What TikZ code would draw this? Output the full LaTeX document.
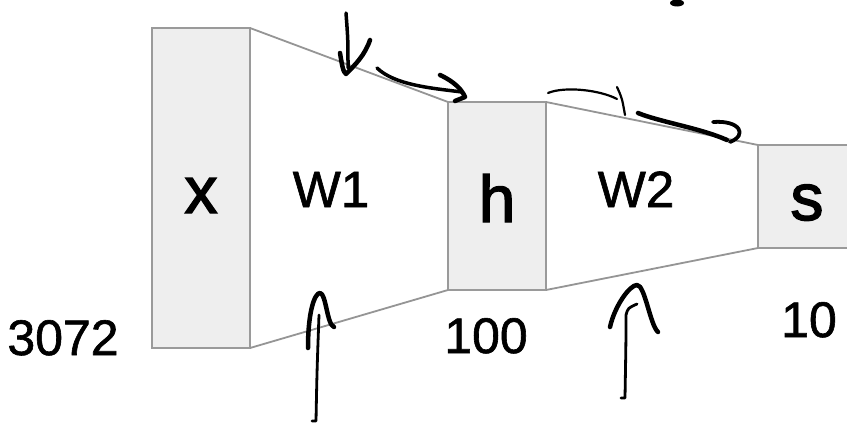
\documentclass[tikz,border=0pt]{standalone}
\usepackage{fontspec}
\setmainfont{Liberation Sans}
\newfontfamily\heavyletters[FakeBold=2.2]{Liberation Sans}
\newfontfamily\midletters[FakeBold=1.2]{Liberation Sans}
\definecolor{boxgray}{HTML}{9A9A9A}
\definecolor{boxfill}{HTML}{EEEEEE}
\definecolor{linegray}{HTML}{959595}
\begin{document}
\begin{tikzpicture}[x=1pt,y=-1pt,
 box/.style={draw=boxgray, fill=boxfill, line width=2pt, inner sep=0pt, outer sep=0pt},
 conn/.style={draw=linegray, line width=1.8pt},
 big/.style={font=\heavyletters\fontsize{66}{70}\selectfont, anchor=base, inner sep=0pt},
 wlab/.style={font=\midletters\fontsize{51}{55}\selectfont, anchor=base, inner sep=0pt},
 num/.style={font=\midletters\fontsize{50}{55}\selectfont, anchor=base, inner sep=0pt},
 pen/.style={line width=3.5pt, line cap=round, line join=round, draw=black}]
\useasboundingbox (0,0) rectangle (847,423);
\clip (0,0) rectangle (847,423);
\fill[white] (0,0) rectangle (847,423);

% boxes
\node[box, minimum width=98pt, minimum height=320pt] (xb) at (201,188) {};
\node[box, minimum width=98pt, minimum height=188pt] (hb) at (497,196) {};
\node[box, minimum width=120pt, minimum height=103pt] (sb) at (818,196.5) {};

% connectors
\draw[conn] (xb.north east) -- (hb.north west);
\draw[conn] (xb.south east) -- (hb.south west);
\draw[conn] (hb.north east) -- (sb.north west);
\draw[conn] (hb.south east) -- (sb.south west);

% labels
\node[big] (xl) at (201,213) {x};
\node[big] (hl) at (497,222) {h};
\node[big] (sl) at (807,220) {s};
\node[wlab] (w1) at (331,207) {W1};
\node[wlab] (w2) at (636,207) {W2};
\node[num] (n1) at (63,355) {3072};
\node[num] (n2) at (486,353) {100};
\node[num] (n3) at (809,337) {10};

% hand-drawn marks
\draw[pen, line width=3.5pt] (346,13) .. controls (348,40) .. (348,68);
\draw[pen, line width=4.5pt] (340,53) .. controls (342,65) and (343,72) .. (346,74) .. controls (355,65) and (365,55) .. (370,40);
\draw[pen, line width=3.5pt] (377,68) .. controls (395,85) and (430,88) .. (462,92);
\draw[pen, line width=4.5pt] (440,75) .. controls (455,82) and (462,90) .. (465,97) -- (455,101);

\draw[pen, line width=2.2pt] (548,93) .. controls (565,86) and (600,90) .. (617,99);
\draw[pen, line width=2.2pt] (617,87) .. controls (622,98) .. (625,115);
\draw[pen, line width=4.5pt] (638,113) .. controls (660,122) and (700,128) .. (727,140);
\draw[pen, line width=3.8pt] (713,122) .. controls (740,120) and (748,135) .. (730,142);

\draw[pen, line width=2.8pt] (312,421) -- (316,421) .. controls (317,370) .. (319,315);
\draw[pen, line width=4.5pt] (308,348) .. controls (308,310) and (315,293) .. (320,293) .. controls (326,293) and (327,325) .. (334,327);

\draw[pen, line width=2.8pt] (621,398) -- (625,398) .. controls (626,340) .. (626,315) .. controls (628,308) .. (637,304);
\draw[pen, line width=4.5pt] (610,327) .. controls (615,305) and (630,285) .. (637,285) .. controls (645,285) and (650,325) .. (658,332);

\fill[black] (677,3) ellipse (7pt and 3.5pt);
\end{tikzpicture}
\end{document}
